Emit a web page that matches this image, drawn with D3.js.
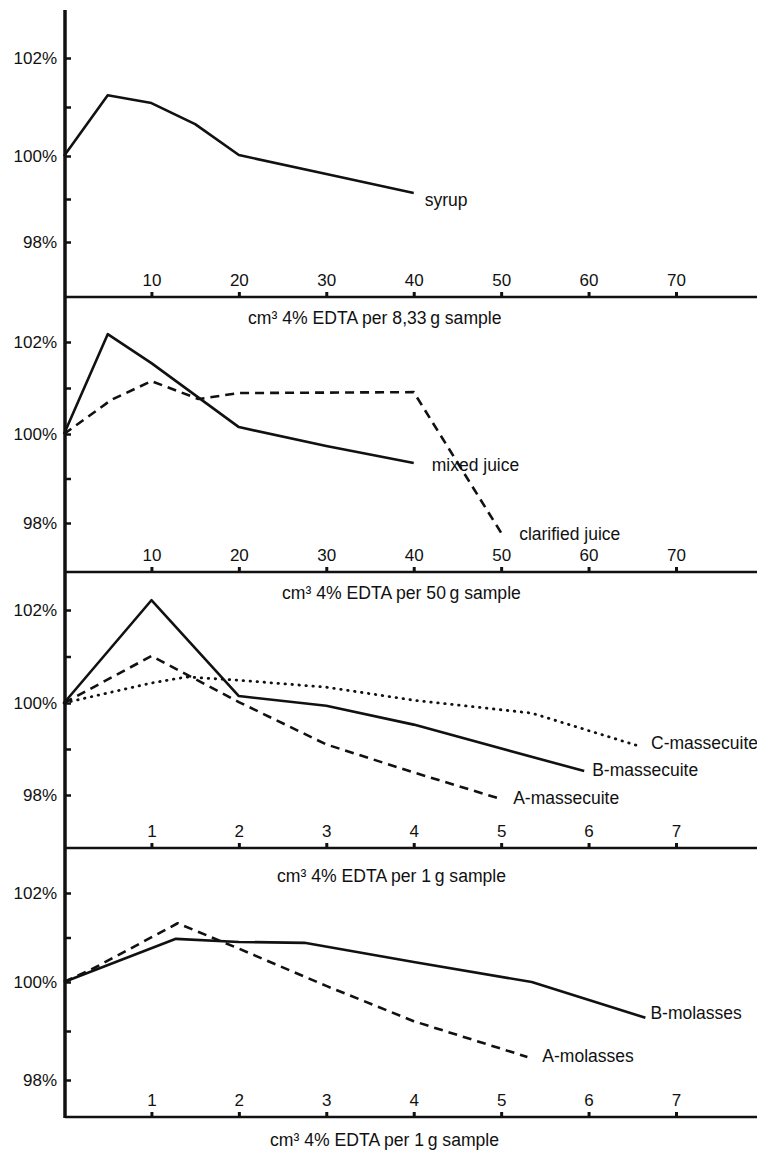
<!DOCTYPE html>
<html>
<head>
<meta charset="utf-8">
<script src="https://cdn.jsdelivr.net/npm/d3@7"></script>
<style>
  body { margin: 0; background: #fff; }
  svg { display: block; }
  text { font-family: "Liberation Sans", Arial, sans-serif; fill: #111; }
</style>
</head>
<body>
<div id="vis"></div>
<script>

const FRAME_WIDTH = 757;
const FRAME_HEIGHT = 1151;

// values (relative sugar value, %)
const SYRUP_X = [0, 5, 10, 15, 20, 30, 40];
const SYRUP_Y = [100, 101.24, 101.08, 100.65, 100.02, 99.58, 99.14];

const MIXED_JUICE_X = [0, 5, 10, 20, 30, 40];
const MIXED_JUICE_Y = [100, 102.17, 101.54, 100.15, 99.73, 99.35];
const CLARIFIED_JUICE_X = [0, 5.4, 10, 15.4, 20, 40, 50];
const CLARIFIED_JUICE_Y = [100, 100.74, 101.15, 100.76, 100.89, 100.91, 97.78];

const A_MASSECUITE_X = [0, 1, 2, 3, 4, 5];
const A_MASSECUITE_Y = [100, 101.01, 100.02, 99.1, 98.49, 97.91];
const B_MASSECUITE_X = [0, 1, 2, 3, 4, 5.95];
const B_MASSECUITE_Y = [100, 102.21, 100.15, 99.94, 99.53, 98.52];
const C_MASSECUITE_X = [0, 1, 1.4, 2, 3, 4, 5.35, 6.6];
const C_MASSECUITE_Y = [100, 100.43, 100.56, 100.49, 100.34, 100.06, 99.78, 99.05];

const A_MOLASSES_X = [0, 0.35, 1.3, 2, 3, 4, 5.3];
const A_MOLASSES_Y = [100, 100.32, 101.32, 100.75, 99.92, 99.2, 98.47];
const B_MOLASSES_X = [0, 1.28, 2, 2.75, 4, 5.35, 6.65];
const B_MOLASSES_Y = [100, 100.97, 100.9, 100.88, 100.45, 100.0, 99.27];

// tick values and texts
const X_TICKS_ML = [10, 20, 30, 40, 50, 60, 70];
const X_TICKS_G = [1, 2, 3, 4, 5, 6, 7];
const Y_TICKS = [98, 99, 100, 101, 102];
const AXIS_TITLES = ["cm\u00b3 4% EDTA per 8,33\u2009g sample",
                     "cm\u00b3 4% EDTA per 50\u2009g sample",
                     "cm\u00b3 4% EDTA per 1\u2009g sample",
                     "cm\u00b3 4% EDTA per 1\u2009g sample"];

// layout of the four stacked panels (pixel positions of the scan)
const AXIS_X = 65;
const X_RANGE = [64, 676];
const PANELS = [
  {axisY: 297, yRange: [242, 156, 58], ticks: X_TICKS_ML, titleX: 248, titleY: 324},
  {axisY: 572, yRange: [523, 434, 342], ticks: X_TICKS_ML, titleX: 282, titleY: 599},
  {axisY: 848, yRange: [795, 703, 610], ticks: X_TICKS_G, titleX: 277, titleY: 882},
  {axisY: 1117, yRange: [1080, 982, 893], ticks: X_TICKS_G, titleX: 270, titleY: 1146}
];

const DASH = {solid: null, dashed: "9,6", dotted: "0.5,6.5"};

const SERIES = [
  {panel: 0, label: "syrup", xs: SYRUP_X, ys: SYRUP_Y, style: "solid", dx: 11, dy: 13},
  {panel: 1, label: "mixed juice", xs: MIXED_JUICE_X, ys: MIXED_JUICE_Y, style: "solid", dx: 18, dy: 8},
  {panel: 1, label: "clarified juice", xs: CLARIFIED_JUICE_X, ys: CLARIFIED_JUICE_Y, style: "dashed", dx: 18, dy: 7},
  {panel: 2, label: "C-massecuite", xs: C_MASSECUITE_X, ys: C_MASSECUITE_Y, style: "dotted", dx: 10, dy: 2},
  {panel: 2, label: "B-massecuite", xs: B_MASSECUITE_X, ys: B_MASSECUITE_Y, style: "solid", dx: 8, dy: 5},
  {panel: 2, label: "A-massecuite", xs: A_MASSECUITE_X, ys: A_MASSECUITE_Y, style: "dashed", dx: 12, dy: 5},
  {panel: 3, label: "B-molasses", xs: B_MOLASSES_X, ys: B_MOLASSES_Y, style: "solid", dx: 5, dy: 1},
  {panel: 3, label: "A-molasses", xs: A_MOLASSES_X, ys: A_MOLASSES_Y, style: "dashed", dx: 15, dy: 5}
];

const FRAME = d3.select("#vis")
                .append("svg")
                    .attr("width", FRAME_WIDTH)
                    .attr("height", FRAME_HEIGHT);

FRAME.append("rect")
    .attr("width", FRAME_WIDTH)
    .attr("height", FRAME_HEIGHT)
    .attr("fill", "#fff");

// build scales per panel
PANELS.forEach((p) => {
    p.x = d3.scaleLinear()
            .domain([0, d3.max(p.ticks)])
            .range(X_RANGE);
    p.y = d3.scaleLinear()
            .domain([98, 100, 102])
            .range(p.yRange);
});

PANELS.forEach((p, i) => {

    // y axis ticks point inward, labels on the left
    const yAxis = FRAME.append("g")
        .attr("transform", "translate(" + AXIS_X + ",0)")
        .call(d3.axisLeft(p.y)
                .tickValues(Y_TICKS)
                .tickSizeInner(-6)
                .tickSizeOuter(0)
                .tickPadding(8)
                .tickFormat((d) => { return d % 2 === 0 ? d + "%" : ""; }));
    yAxis.select(".domain").remove();
    yAxis.selectAll("line").attr("stroke", "#111").attr("stroke-width", 2.5);
    yAxis.selectAll("text")
        .attr("font-size", 17)
        .attr("font-family", "'Liberation Sans', Arial, sans-serif")
        .attr("fill", "#111");

    // x axis with ticks pointing up and numbers above the line
    const xAxis = FRAME.append("g")
        .attr("transform", "translate(0," + p.axisY + ")")
        .call(d3.axisTop(p.x)
                .tickValues(p.ticks)
                .tickSizeInner(5)
                .tickSizeOuter(0)
                .tickPadding(6)
                .tickFormat(d3.format("d")));
    xAxis.select(".domain").remove();
    xAxis.selectAll("line").attr("stroke", "#111").attr("stroke-width", 3);
    xAxis.selectAll("text")
        .attr("font-size", 17)
        .attr("font-family", "'Liberation Sans', Arial, sans-serif")
        .attr("fill", "#111");

    FRAME.append("line")
        .attr("x1", AXIS_X)
        .attr("x2", FRAME_WIDTH)
        .attr("y1", p.axisY)
        .attr("y2", p.axisY)
        .attr("stroke", "#111")
        .attr("stroke-width", 2.6);

    // axis title
    FRAME.append("text")
        .attr("x", p.titleX)
        .attr("y", p.titleY)
        .attr("font-size", 17.6)
        .text(AXIS_TITLES[i]);
});

// the one long vertical axis
FRAME.append("line")
    .attr("x1", AXIS_X)
    .attr("x2", AXIS_X)
    .attr("y1", 10)
    .attr("y2", PANELS[3].axisY + 1)
    .attr("stroke", "#111")
    .attr("stroke-width", 3.5);

// curves
const LINE = d3.line()
    .x((d) => { return d.sx; })
    .y((d) => { return d.sy; });

SERIES.forEach((s) => {
    const p = PANELS[s.panel];
    const pts = d3.zip(s.xs, s.ys).map((d) => {
        return {sx: p.x(d[0]), sy: p.y(d[1])};
    });

    FRAME.append("path")
        .datum(pts)
        .attr("d", LINE)
        .attr("fill", "none")
        .attr("stroke", "#111")
        .attr("stroke-width", s.style === "dotted" ? 2.8 : 2.6)
        .attr("stroke-linejoin", "round")
        .attr("stroke-linecap", s.style === "dotted" ? "round" : "butt")
        .attr("stroke-dasharray", DASH[s.style]);

    const last = pts[pts.length - 1];
    FRAME.append("text")
        .attr("x", last.sx + s.dx)
        .attr("y", last.sy + s.dy)
        .attr("font-size", 17.5)
        .text(s.label);
});

</script>
</body>
</html>
